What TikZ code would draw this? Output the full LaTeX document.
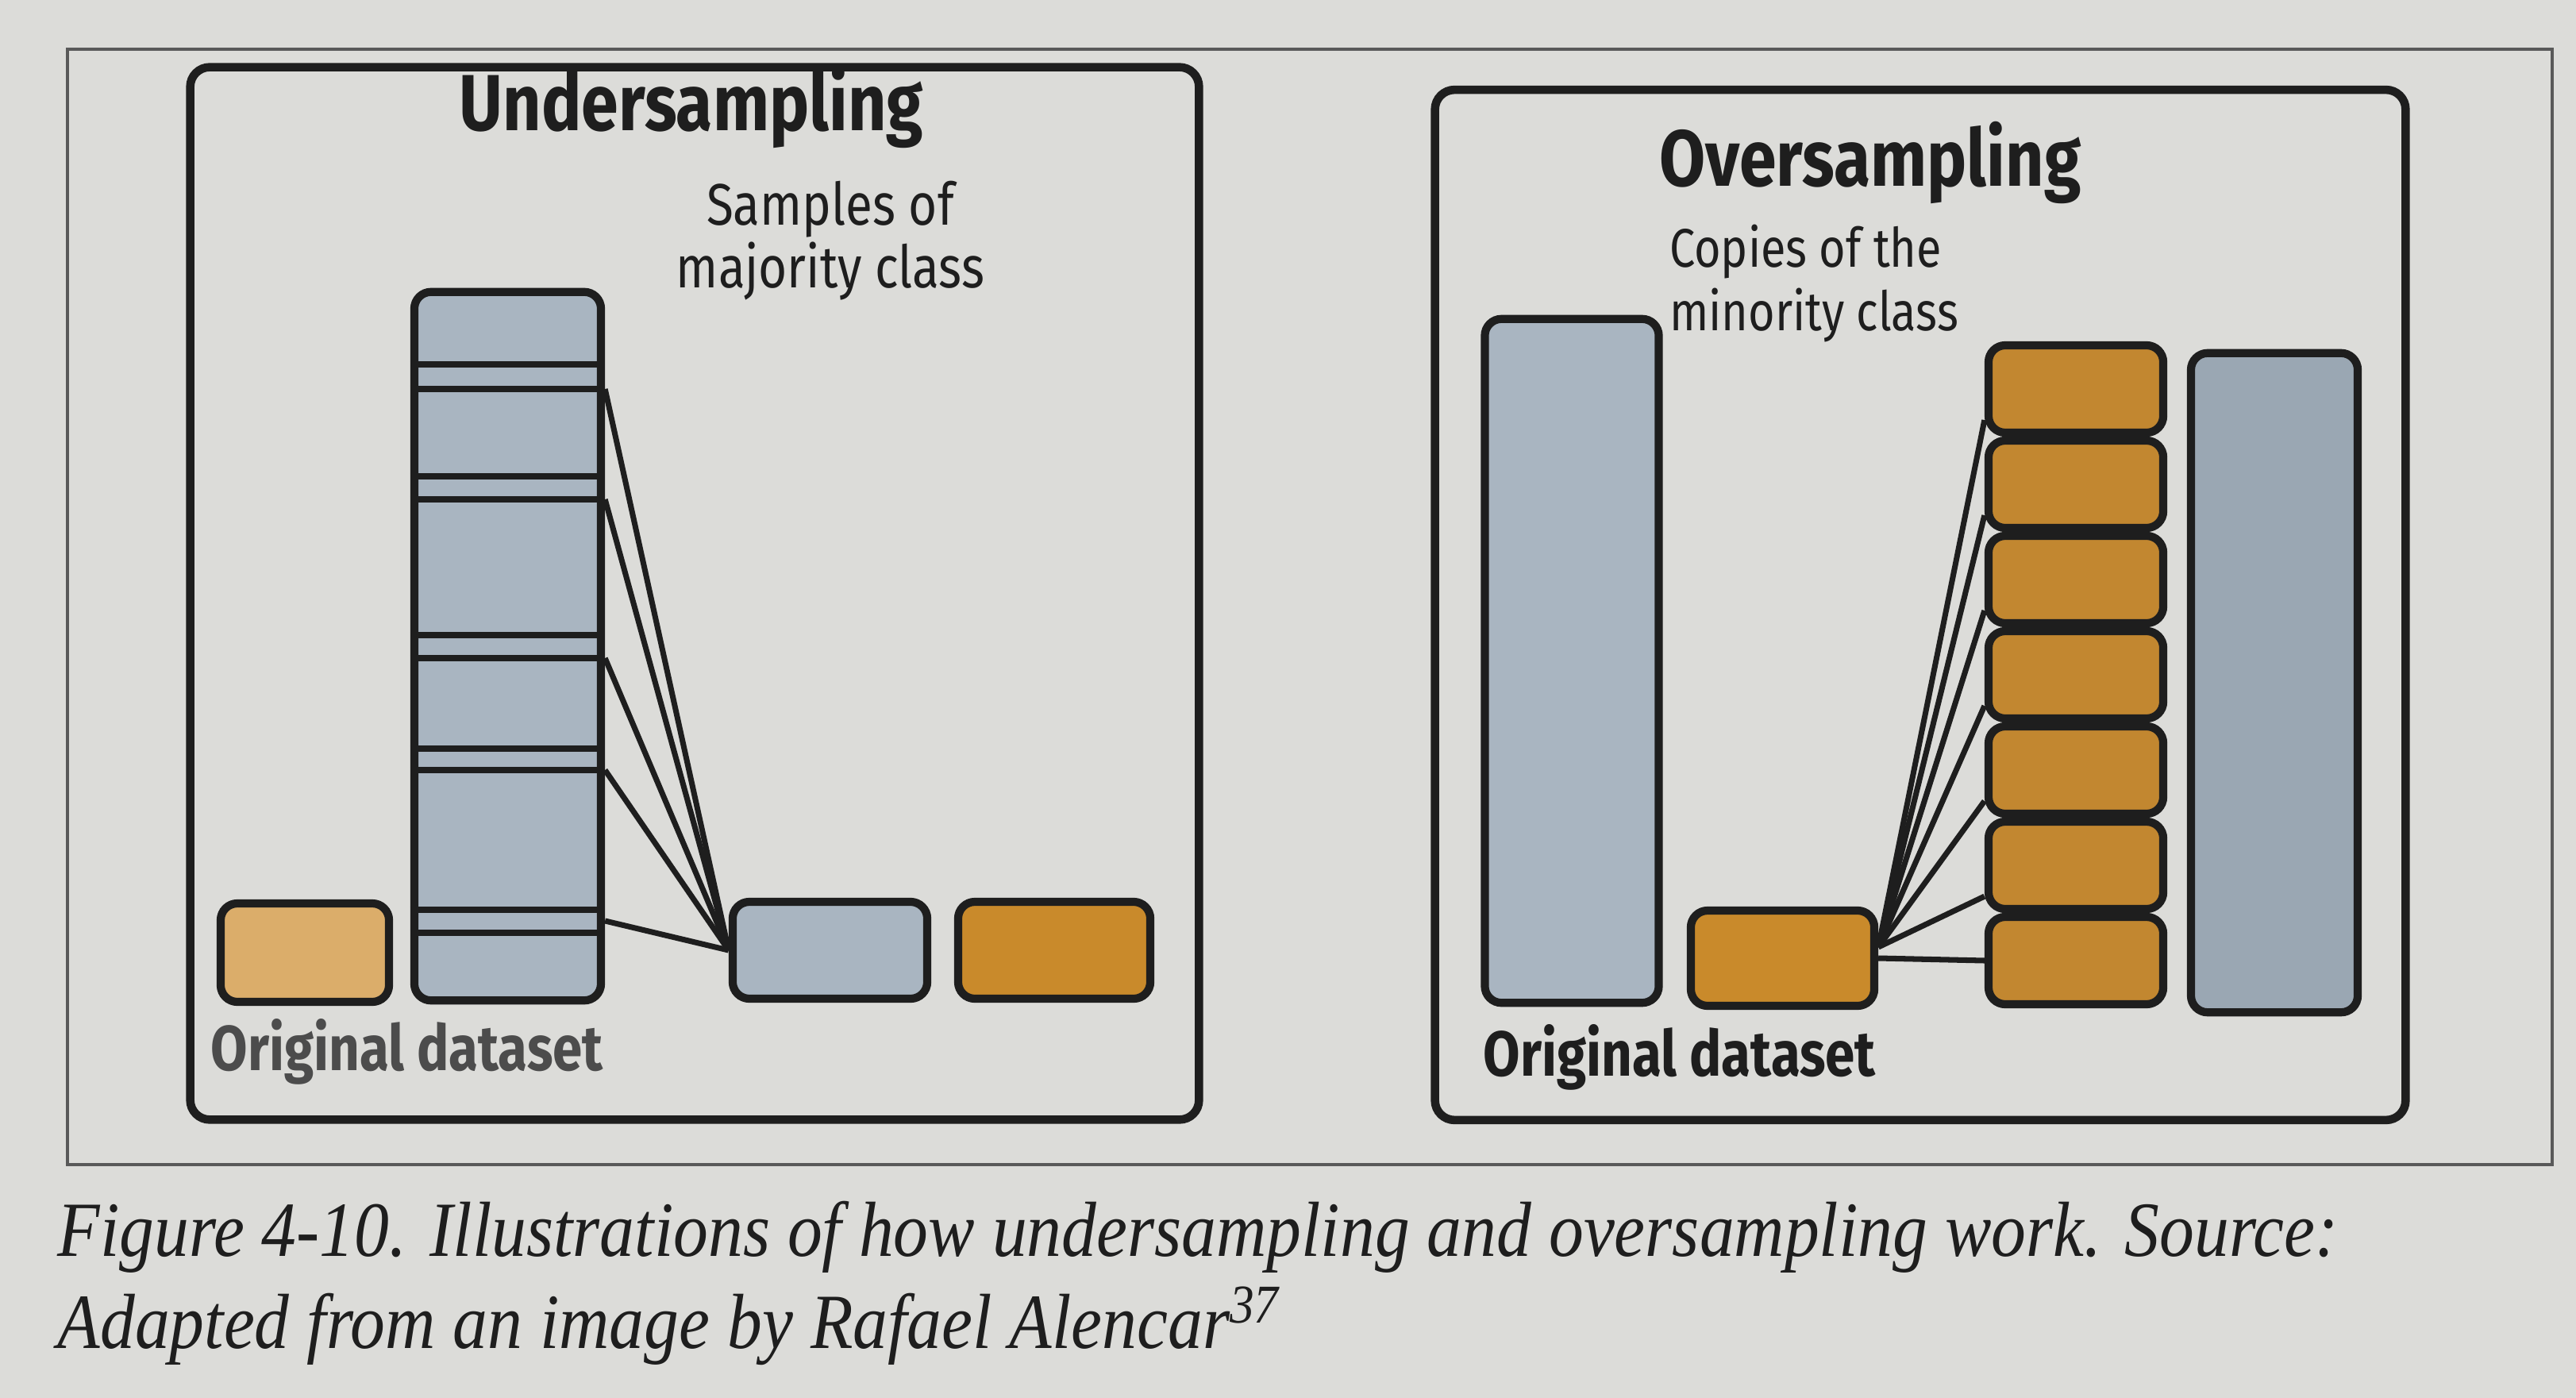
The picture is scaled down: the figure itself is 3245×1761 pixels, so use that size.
\documentclass[tikz,border=0pt]{standalone}
\usepackage{fontspec}
\newfontfamily\dsans[FakeStretch=0.84]{Fira Sans}
\newfontfamily\capserif[FakeStretch=0.89]{Liberation Serif}
\usetikzlibrary{calc}
\definecolor{pagebg}{HTML}{DCDCD9}
\definecolor{blueA}{HTML}{A9B5C1}
\definecolor{blueB}{HTML}{9AA7B3}
\definecolor{orangeD}{HTML}{C98A2B}
\definecolor{orangeS}{HTML}{C28730}
\definecolor{orangeL}{HTML}{DBAD6A}
\definecolor{ink}{HTML}{1E1E1E}
\begin{document}
\begin{tikzpicture}[x=0.01cm,y=-0.01cm,
  panel/.style={draw=ink, line width=3pt, rounded corners=7pt, inner sep=0pt},
  blk/.style={draw=ink, line width=2.9pt, rounded corners=6pt, inner sep=0pt},
  band/.style={draw=ink, line width=2.1pt},
  link/.style={draw=ink, line width=2pt},
  ttl/.style={font=\dsans\bfseries\fontsize{28.5}{31}\selectfont, text=ink, inner sep=0pt},
  lbl/.style={font=\dsans\fontsize{21}{22.5}\selectfont, text=ink, inner sep=0pt},
  lbltwo/.style={font=\dsans\fontsize{19.5}{22.5}\selectfont, text=ink, inner sep=0pt},
  orig/.style={font=\dsans\bfseries\fontsize{22.8}{25}\selectfont, inner sep=0pt, anchor=west},
  captxt/.style={font=\capserif\itshape\fontsize{28}{33}\selectfont, text=ink, inner sep=0pt, anchor=base west},
]
\fill[pagebg] (0,0) rectangle (3245,1761);
\useasboundingbox (0,0) rectangle (3245,1761);

% figure frame
\draw[line width=1.2pt, draw=black!65] (85,62) rectangle (3215,1467);

% ---------- Undersampling panel ----------
\node[panel, minimum width=12.70cm, minimum height=13.25cm] (lpanel) at (875,747.5) {};
\node[ttl] (ltitle) at (871,135) {Undersampling};
\node[lbl, align=center] (lnote) at (1046,303) {Samples of\\majority class};

\node[blk, fill=blueA, minimum width=2.35cm, minimum height=8.92cm] (colL) at (639.5,814) {};
\foreach \yy in {459,490,600,629,800,829,943,970,1146,1175}
  \draw[band] (colL.west |- 0,\yy) -- (colL.east |- 0,\yy);

\node[blk, fill=orangeL, minimum width=2.12cm, minimum height=1.24cm] (lorange) at (384,1200) {};
\node[blk, fill=blueA, minimum width=2.45cm, minimum height=1.22cm] (bsmall) at (1045.5,1197) {};
\node[blk, fill=orangeD, minimum width=2.42cm, minimum height=1.22cm] (dorange) at (1328,1197) {};
\node[orig, text=black!70] (lorig) at (265,1325) {Original dataset};

\foreach \yy in {490,629,829,970,1160}
  \draw[link] (colL.east |- 0,\yy) -- (bsmall.west);

% ---------- Oversampling panel ----------
\node[panel, minimum width=12.22cm, minimum height=12.97cm] (rpanel) at (2419,762) {};
\node[ttl] (rtitle) at (2356,205) {Oversampling};
\node[lbltwo, align=left] (rnote) at (2285,357) {Copies of the\\minority class};

\node[blk, fill=blueA, minimum width=2.19cm, minimum height=8.61cm] (colR1) at (1980,832.5) {};
\node[blk, fill=orangeD, minimum width=2.31cm, minimum height=1.20cm] (oorig) at (2245.5,1207) {};
\foreach \i/\cy in {1/490,2/610,3/730,4/850,5/970,6/1090,7/1210}
  \node[blk, fill=orangeS, minimum width=2.20cm, minimum height=1.10cm] (s\i) at (2615,\cy) {};
\node[blk, fill=blueB, minimum width=2.10cm, minimum height=8.30cm] (colR2) at (2865,860) {};
\node[orig, text=ink] (rorig) at (1868,1332) {Original dataset};

\coordinate (hub) at ($(oorig.east)+(0,-14)$);
\foreach \i in {1,...,6}
  \draw[link] (hub) -- ($(s\i.west)!0.65!(s\i.south west)$);
\draw[link] (oorig.east) -- (s7.west);

% ---------- caption ----------
\node[captxt] (cap1) at (72,1582) {Figure 4-10. Illustrations of how undersampling and oversampling work. Source:};
\node[captxt] (cap2) at (72,1698) {Adapted from an image by Rafael Alencar\textsuperscript{37}};
\end{tikzpicture}
\end{document}
